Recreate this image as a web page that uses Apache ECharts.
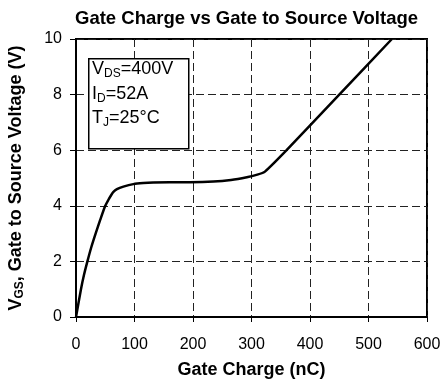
<!DOCTYPE html>
<html>
<head>
<meta charset="utf-8">
<script src="https://cdn.jsdelivr.net/npm/echarts@6/dist/echarts.min.js"></script>
<style>html,body{margin:0;padding:0;background:#fff;}#c{width:445px;height:379px;}</style>
</head>
<body>
<div id="c"></div>
<script>
var gateCharge = [0, 8.5, 13.5, 19.5, 26, 33.5, 41.5, 50, 55, 60, 64, 70, 81, 98, 115, 132, 160, 195, 235, 265, 292, 310, 323, 360, 450, 540];
var gateVoltage = [0, 1.0, 1.5, 2.0, 2.5, 3.0, 3.5, 4.0, 4.2, 4.38, 4.5, 4.6, 4.69, 4.78, 4.82, 4.84, 4.85, 4.85, 4.87, 4.93, 5.03, 5.12, 5.23, 6.0, 8.0, 10.0];
var xTicks = [0, 100, 200, 300, 400, 500, 600];
var yTicks = [0, 2, 4, 6, 8, 10];

var FONT = 'Liberation Sans, Arial, sans-serif';
var chart = echarts.init(document.getElementById('c'));
var pts = gateCharge.map(function (q, i) { return [q, gateVoltage[i]]; });

chart.setOption({
  animation: false,
  title: {
    text: 'Gate Charge vs Gate to Source Voltage',
    left: 70, top: 4,
    textStyle: { fontFamily: FONT, fontWeight: 'bold', fontSize: 18.5, color: '#000' }
  },
  grid: { left: 76, right: 18, top: 39, bottom: 62, show: true, borderColor: '#000', borderWidth: 2,
          containLabel: false, outerBoundsMode: 'none' },
  xAxis: {
    type: 'value', min: xTicks[0], max: xTicks[xTicks.length - 1], interval: 100,
    name: 'Gate Charge (nC)', nameLocation: 'middle', nameGap: 44,
    nameTextStyle: { fontFamily: FONT, fontWeight: 'bold', fontSize: 18, color: '#000' },
    axisLine: { lineStyle: { color: '#000', width: 2 } },
    axisTick: { show: true, inside: false, length: 5, lineStyle: { color: '#000', width: 1 } },
    axisLabel: { fontFamily: FONT, fontSize: 16, color: '#000', margin: 20 },
    splitLine: { show: true, lineStyle: { color: '#222', width: 1, type: [8, 4] } }
  },
  yAxis: {
    type: 'value', min: yTicks[0], max: yTicks[yTicks.length - 1], interval: 2,
    name: '{b|V}{s|GS}{b|, Gate to Source Voltage (V)}', nameLocation: 'middle', nameGap: 50,
    nameTextStyle: {
      fontFamily: FONT, fontWeight: 'bold', fontSize: 18, color: '#000',
      rich: {
        b: { fontFamily: FONT, fontWeight: 'bold', fontSize: 18, color: '#000' },
        s: { fontFamily: FONT, fontWeight: 'bold', fontSize: 12, color: '#000', verticalAlign: 'bottom', padding: [8, 0, 0, 0] }
      }
    },
    axisLine: { show: true, lineStyle: { color: '#000', width: 2 } },
    axisTick: { show: true, inside: false, length: 6, lineStyle: { color: '#000', width: 1 } },
    axisLabel: { fontFamily: FONT, fontSize: 16, color: '#000', margin: 14 },
    splitLine: { show: true, lineStyle: { color: '#222', width: 1, type: [8, 4] } }
  },
  series: [{
    type: 'line', data: pts, showSymbol: false, smooth: 0.2,
    lineStyle: { color: '#000', width: 2.5 }, clip: true, z: 3
  }],
  graphic: [
    { type: 'rect', left: 88, top: 58, z: 100,
      shape: { x: 0, y: 0, width: 100, height: 90 },
      style: { fill: '#fff', stroke: '#000', lineWidth: 1.5 } },
    { type: 'text', left: 92, top: 59, z: 101,
      style: {
        text: '{m|V}{s|DS}{m|=400V}\n{m|I}{s|D}{m|=52A}\n{m|T}{s|J}{m|=25°C}',
        rich: {
          m: { fontFamily: FONT, fontSize: 18, fill: '#000', lineHeight: 24.5 },
          s: { fontFamily: FONT, fontSize: 12, fill: '#000', lineHeight: 24.5, padding: [9, 0, 0, 0] }
        }
      }
    }
  ]
});
</script>
</body>
</html>
